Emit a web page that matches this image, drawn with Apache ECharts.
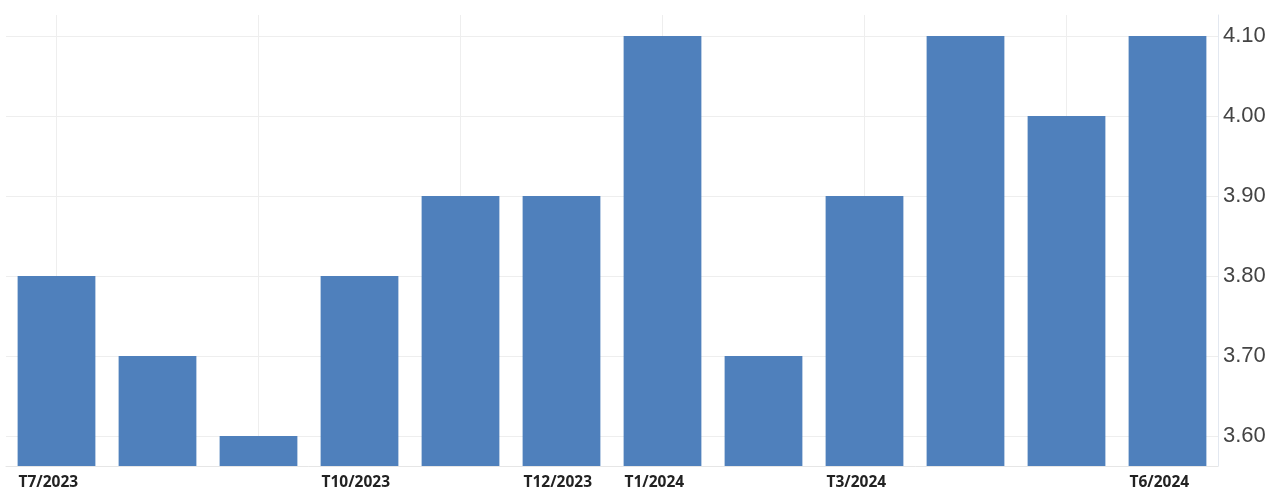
<!DOCTYPE html>
<html>
<head>
<meta charset="utf-8">
<script src="https://cdn.jsdelivr.net/npm/echarts@6/dist/echarts.min.js"></script>
<style>
  html, body { margin: 0; padding: 0; background: #ffffff; }
  #chart { width: 1272px; height: 489px; }
</style>
</head>
<body>
<div id="chart"></div>
<script>
// data
const categories = ["T7/2023", "T8/2023", "T9/2023", "T10/2023", "T11/2023", "T12/2023",
  "T1/2024", "T2/2024", "T3/2024", "T4/2024", "T5/2024", "T6/2024"];
const values = [3.8, 3.7, 3.6, 3.8, 3.9, 3.9, 4.1, 3.7, 3.9, 4.1, 4.0, 4.1];
const shownLabels = ["T7/2023", "T10/2023", "T12/2023", "T1/2024", "T3/2024", "T6/2024"];
const yTicks = [3.6, 3.7, 3.8, 3.9, 4.0, 4.1];
const vLineCats = ["T7/2023", "T9/2023", "T11/2023", "T1/2024", "T3/2024", "T5/2024"];

const chart = echarts.init(document.getElementById('chart'));
chart.setOption({
  backgroundColor: '#ffffff',
  animation: false,
  grid: { left: 6, right: 54, top: 15, bottom: 23, outerBoundsMode: 'none' },
  xAxis: {
    type: 'category',
    data: categories,
    axisLine: { lineStyle: { color: '#e6e6e6' } },
    axisTick: { show: false },
    splitLine: { show: false },
    axisLabel: {
      interval: (i, v) => shownLabels.includes(v),
      margin: 9,
      formatter: v => '{a|' + v + '}',
      rich: {
        a: {
          width: 76,
          align: 'left',
          fontFamily: 'Open Sans',
          fontWeight: 'bold',
          fontSize: 15.5,
          color: '#222222'
        }
      }
    }
  },
  yAxis: {
    type: 'value',
    position: 'right',
    min: 3.5625,
    max: 4.12625,
    axisLine: { show: true, lineStyle: { color: '#e3e8f0' } },
    axisTick: { show: false, customValues: yTicks },
    axisLabel: {
      customValues: yTicks,
      margin: 5,
      fontFamily: 'Liberation Sans',
      fontSize: 22,
      color: '#444444',
      formatter: v => v.toFixed(2)
    },
    splitLine: { show: true, lineStyle: { color: '#eeeeee' } }
  },
  series: [{
    type: 'bar',
    data: values,
    barCategoryGap: '23%',
    itemStyle: { color: '#4f80bc' },
    markLine: {
      silent: true,
      symbol: 'none',
      z: 1,
      label: { show: false },
      lineStyle: { color: '#eeeeee', type: 'solid', width: 1 },
      data: vLineCats.map(c => ({ xAxis: c }))
    }
  }]
});
</script>
</body>
</html>
